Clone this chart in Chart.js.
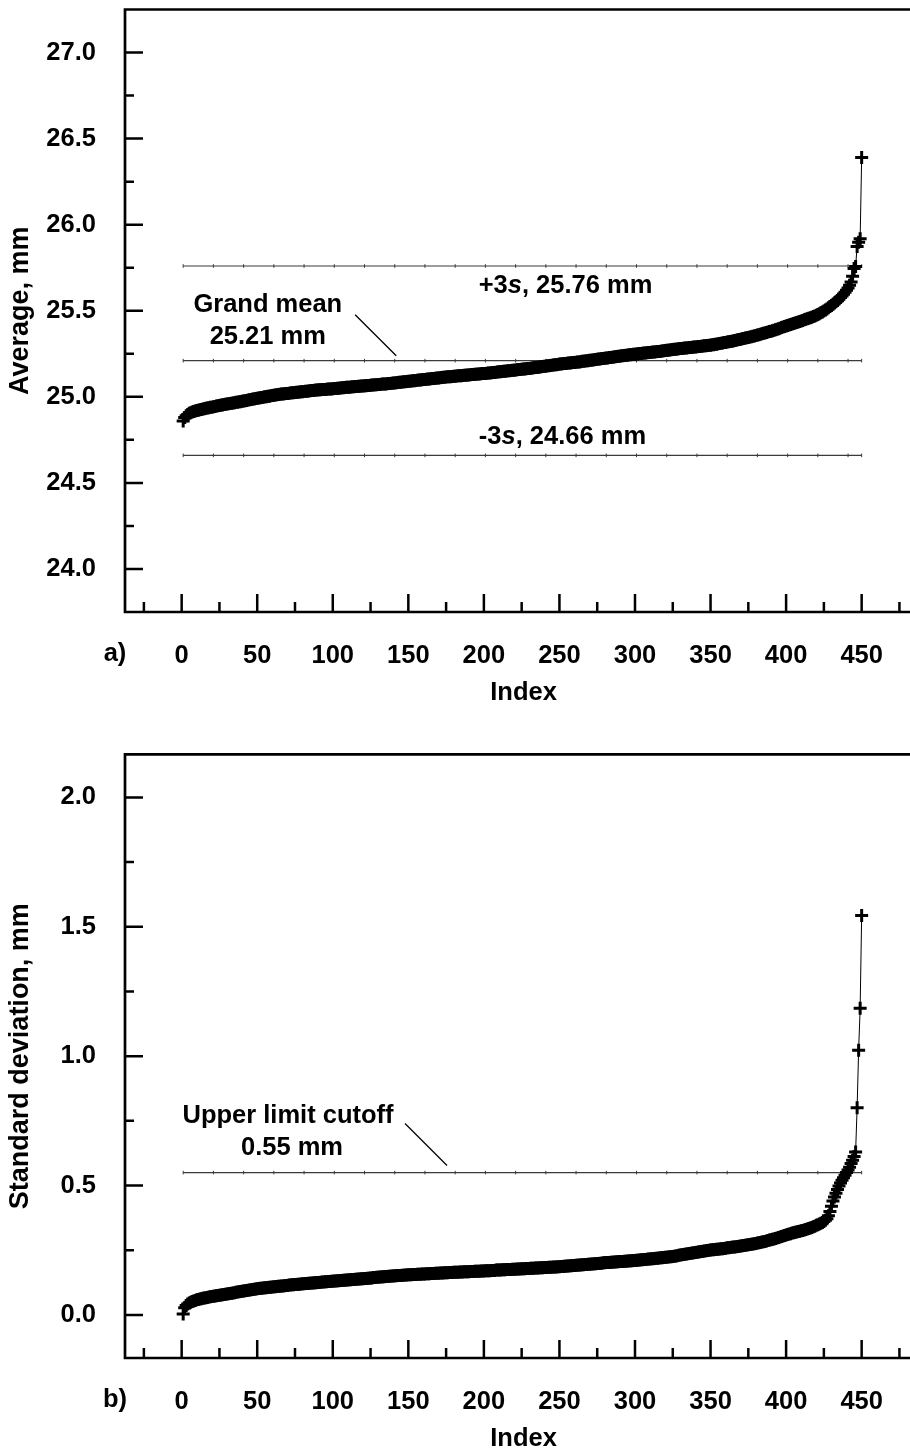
<!DOCTYPE html>
<html>
<head>
<meta charset="utf-8">
<script src="https://cdn.jsdelivr.net/npm/chart.js@4.4.1/dist/chart.umd.min.js"></script>
<style>
  html, body { margin: 0; padding: 0; background: #fff; width: 910px; height: 1456px; overflow: hidden; }
  .panel { position: absolute; left: 0; width: 960px; }
  #pa { top: 0; height: 710px; }
  #pb { top: 710px; height: 746px; }
  canvas { display: block; }
</style>
</head>
<body>
<div class="panel" id="pa"><canvas id="ca" width="960" height="710"></canvas></div>
<div class="panel" id="pb"><canvas id="cb" width="960" height="746"></canvas></div>
<script>
// Sorted subgroup averages (mm), index 1..450
const avgValues = [
  24.860,24.880,24.890,24.898,24.905,24.908,24.912,24.915,24.917,24.920,24.922,24.925,24.927,24.929,24.931,24.933,24.935,24.937,24.939,24.940,24.942,24.944,24.946,24.948,24.950,
  24.952,24.953,24.955,24.957,24.958,24.960,24.961,24.963,24.964,24.966,24.968,24.969,24.971,24.972,24.974,24.976,24.977,24.979,24.981,24.983,24.985,24.987,24.988,24.990,24.992,
  24.993,24.995,24.996,24.998,25.000,25.001,25.003,25.004,25.006,25.008,25.009,25.011,25.012,25.014,25.015,25.016,25.017,25.018,25.019,25.020,25.021,25.022,25.023,25.024,25.025,
  25.026,25.027,25.028,25.029,25.030,25.031,25.032,25.033,25.034,25.035,25.036,25.037,25.038,25.039,25.040,25.041,25.041,25.042,25.043,25.043,25.044,25.045,25.045,25.046,25.047,
  25.048,25.049,25.050,25.050,25.051,25.052,25.053,25.054,25.055,25.056,25.056,25.057,25.058,25.059,25.060,25.060,25.061,25.062,25.063,25.063,25.064,25.065,25.066,25.066,25.067,
  25.068,25.069,25.070,25.070,25.071,25.072,25.073,25.074,25.075,25.075,25.076,25.077,25.078,25.079,25.080,25.081,25.082,25.083,25.084,25.085,25.086,25.087,25.088,25.089,25.090,
  25.091,25.092,25.093,25.094,25.095,25.096,25.097,25.098,25.099,25.100,25.101,25.102,25.103,25.104,25.105,25.106,25.107,25.108,25.109,25.110,25.111,25.112,25.113,25.114,25.115,
  25.116,25.117,25.117,25.118,25.119,25.120,25.121,25.122,25.122,25.123,25.124,25.125,25.126,25.127,25.127,25.128,25.129,25.130,25.131,25.131,25.132,25.133,25.134,25.135,25.135,
  25.136,25.137,25.138,25.139,25.140,25.141,25.142,25.143,25.144,25.145,25.146,25.147,25.148,25.149,25.150,25.151,25.152,25.153,25.154,25.155,25.156,25.157,25.158,25.159,25.160,
  25.161,25.162,25.163,25.164,25.165,25.166,25.167,25.169,25.170,25.171,25.172,25.173,25.175,25.176,25.177,25.178,25.180,25.181,25.182,25.183,25.185,25.186,25.187,25.188,25.190,
  25.191,25.192,25.193,25.194,25.195,25.196,25.197,25.198,25.199,25.200,25.201,25.202,25.203,25.204,25.206,25.207,25.208,25.209,25.210,25.212,25.213,25.214,25.215,25.217,25.218,
  25.219,25.220,25.222,25.223,25.224,25.225,25.226,25.228,25.229,25.230,25.231,25.233,25.234,25.235,25.236,25.238,25.239,25.240,25.241,25.242,25.244,25.245,25.246,25.247,25.248,
  25.249,25.250,25.251,25.252,25.253,25.254,25.255,25.256,25.257,25.258,25.259,25.260,25.261,25.262,25.263,25.264,25.265,25.266,25.268,25.269,25.270,25.271,25.272,25.273,25.275,
  25.276,25.277,25.278,25.279,25.280,25.281,25.282,25.283,25.284,25.285,25.286,25.287,25.288,25.289,25.290,25.291,25.292,25.293,25.294,25.295,25.296,25.297,25.298,25.299,25.300,
  25.302,25.303,25.305,25.306,25.308,25.310,25.311,25.313,25.315,25.316,25.318,25.320,25.322,25.323,25.325,25.327,25.329,25.331,25.333,25.335,25.337,25.339,25.341,25.343,25.345,
  25.347,25.349,25.352,25.354,25.356,25.359,25.361,25.364,25.366,25.369,25.371,25.374,25.376,25.379,25.381,25.384,25.387,25.390,25.393,25.396,25.399,25.402,25.405,25.408,25.411,
  25.414,25.417,25.420,25.423,25.426,25.429,25.432,25.435,25.438,25.441,25.444,25.447,25.450,25.453,25.456,25.459,25.462,25.466,25.470,25.474,25.478,25.483,25.488,25.493,25.498,
  25.504,25.510,25.517,25.524,25.531,25.538,25.545,25.552,25.560,25.568,25.577,25.586,25.596,25.607,25.619,25.632,25.648,25.667,25.700,25.745,25.757,25.873,25.898,25.918,26.390
];

// Sorted subgroup standard deviations (mm), index 1..450
const sdValues = [
  0.003,0.028,0.036,0.042,0.046,0.049,0.052,0.054,0.056,0.058,0.059,0.061,0.062,0.064,0.065,0.066,0.067,0.069,0.070,0.071,0.072,0.073,0.074,0.075,0.076,
  0.077,0.078,0.079,0.080,0.081,0.082,0.083,0.084,0.085,0.086,0.087,0.088,0.089,0.090,0.091,0.092,0.093,0.094,0.095,0.096,0.097,0.098,0.099,0.100,0.101,
  0.102,0.103,0.103,0.104,0.105,0.105,0.106,0.107,0.107,0.108,0.109,0.109,0.110,0.111,0.111,0.112,0.112,0.113,0.114,0.114,0.115,0.115,0.116,0.116,0.117,
  0.117,0.118,0.118,0.119,0.120,0.120,0.121,0.121,0.122,0.122,0.123,0.123,0.124,0.124,0.125,0.125,0.126,0.127,0.127,0.128,0.128,0.129,0.129,0.130,0.130,
  0.131,0.131,0.132,0.132,0.133,0.133,0.134,0.134,0.135,0.135,0.136,0.136,0.137,0.137,0.138,0.138,0.139,0.139,0.140,0.140,0.141,0.141,0.142,0.142,0.143,
  0.143,0.144,0.144,0.145,0.145,0.146,0.146,0.147,0.147,0.148,0.148,0.149,0.149,0.150,0.150,0.151,0.151,0.152,0.152,0.152,0.153,0.153,0.154,0.154,0.155,
  0.155,0.155,0.156,0.156,0.156,0.157,0.157,0.157,0.158,0.158,0.158,0.159,0.159,0.159,0.160,0.160,0.160,0.161,0.161,0.161,0.162,0.162,0.162,0.163,0.163,
  0.163,0.164,0.164,0.164,0.165,0.165,0.165,0.165,0.166,0.166,0.166,0.167,0.167,0.167,0.167,0.168,0.168,0.168,0.169,0.169,0.169,0.169,0.170,0.170,0.170,
  0.171,0.171,0.171,0.171,0.172,0.172,0.172,0.173,0.173,0.173,0.173,0.174,0.174,0.174,0.175,0.175,0.175,0.175,0.176,0.176,0.176,0.177,0.177,0.177,0.178,
  0.178,0.178,0.179,0.179,0.179,0.180,0.180,0.180,0.181,0.181,0.181,0.182,0.182,0.182,0.183,0.183,0.183,0.184,0.184,0.184,0.185,0.185,0.185,0.186,0.186,
  0.187,0.187,0.188,0.188,0.189,0.189,0.190,0.190,0.191,0.191,0.192,0.192,0.193,0.193,0.194,0.194,0.195,0.195,0.196,0.196,0.197,0.197,0.198,0.198,0.199,
  0.199,0.200,0.200,0.201,0.201,0.202,0.202,0.202,0.203,0.203,0.204,0.204,0.205,0.205,0.206,0.206,0.206,0.207,0.207,0.208,0.208,0.209,0.209,0.210,0.210,
  0.211,0.211,0.212,0.213,0.213,0.214,0.214,0.215,0.216,0.216,0.217,0.217,0.218,0.219,0.219,0.220,0.221,0.221,0.222,0.223,0.223,0.224,0.225,0.225,0.226,
  0.227,0.228,0.229,0.230,0.231,0.232,0.233,0.234,0.235,0.236,0.237,0.238,0.239,0.240,0.241,0.242,0.243,0.244,0.245,0.246,0.247,0.248,0.249,0.250,0.251,
  0.252,0.252,0.253,0.254,0.254,0.255,0.256,0.256,0.257,0.258,0.259,0.259,0.260,0.261,0.262,0.262,0.263,0.264,0.265,0.266,0.267,0.268,0.269,0.270,0.271,
  0.272,0.273,0.274,0.275,0.276,0.278,0.279,0.280,0.282,0.283,0.284,0.286,0.287,0.289,0.290,0.292,0.293,0.295,0.297,0.299,0.301,0.303,0.305,0.307,0.309,
  0.311,0.313,0.314,0.316,0.317,0.319,0.320,0.322,0.323,0.325,0.326,0.328,0.330,0.332,0.334,0.336,0.338,0.341,0.343,0.346,0.348,0.351,0.354,0.357,0.361,
  0.366,0.372,0.383,0.400,0.420,0.440,0.456,0.470,0.485,0.498,0.510,0.520,0.530,0.540,0.550,0.560,0.571,0.585,0.598,0.612,0.630,0.801,1.023,1.185,1.544
];

// Control limits (mm)
const grandMean = 25.21;
const upperLimit = 25.76;
const lowerLimit = 24.66;
const sdCutoff = 0.55;

// Tick values
const indexMajor = [0, 50, 100, 150, 200, 250, 300, 350, 400, 450];
const indexMinor = [-25, 25, 75, 125, 175, 225, 275, 325, 375, 425, 475];
const avgMajor = [24.0, 24.5, 25.0, 25.5, 26.0, 26.5, 27.0];
const avgMinor = [24.25, 24.75, 25.25, 25.75, 26.25, 26.75];
const sdMajor = [0.0, 0.5, 1.0, 1.5, 2.0];
const sdMinor = [0.25, 0.75, 1.25, 1.75];

// Positions along the reference lines that carry small markers
const refIdx = [1, 21, 41, 61, 81, 101, 121, 141, 161, 181, 201, 221, 241, 261, 281, 301, 321, 341, 361, 381, 401, 421, 441, 450];

const FAMILY = '"Liberation Sans", Arial, Helvetica, sans-serif';
const FS = 25.5;
const B = 'bold ' + FS + 'px ' + FAMILY;
const BI = 'italic bold ' + FS + 'px ' + FAMILY;

const has = (arr, v) => arr.some(a => Math.abs(a - v) < 1e-6);

function runs(ctx, parts, cx, cy) {
  let w = 0;
  parts.forEach(p => { ctx.font = p[1]; w += ctx.measureText(p[0]).width; });
  let xx = cx - w / 2;
  ctx.textAlign = 'left';
  ctx.textBaseline = 'middle';
  parts.forEach(p => { ctx.font = p[1]; ctx.fillText(p[0], xx, cy); xx += ctx.measureText(p[0]).width; });
}

// Frame, inward tick marks and annotations
const frame = {
  id: 'frame',
  afterDatasetsDraw(chart, args, o) {
    const { ctx, chartArea: a, scales: { x, y } } = chart;
    ctx.save();
    ctx.strokeStyle = '#000';
    ctx.fillStyle = '#000';
    ctx.lineWidth = 2.7;
    ctx.beginPath();
    ctx.moveTo(a.left - 1.35, a.bottom); ctx.lineTo(chart.width, a.bottom);
    ctx.moveTo(a.left - 1.35, a.top); ctx.lineTo(chart.width, a.top);
    ctx.moveTo(a.left, a.top); ctx.lineTo(a.left, a.bottom);
    ctx.stroke();

    ctx.lineWidth = 2.5;
    ctx.beginPath();
    o.yMajor.forEach(v => { const p = y.getPixelForValue(v); ctx.moveTo(a.left, p); ctx.lineTo(a.left + 18, p); });
    o.yMinor.forEach(v => { const p = y.getPixelForValue(v); ctx.moveTo(a.left, p); ctx.lineTo(a.left + 9, p); });
    o.xMajor.forEach(v => { const p = x.getPixelForValue(v); ctx.moveTo(p, a.bottom); ctx.lineTo(p, a.bottom - 18); });
    o.xMinor.forEach(v => { const p = x.getPixelForValue(v); if (p < chart.width) { ctx.moveTo(p, a.bottom); ctx.lineTo(p, a.bottom - 10); } });
    ctx.stroke();

    ctx.font = B;
    ctx.textAlign = 'center';
    ctx.textBaseline = 'middle';
    ctx.fillText(o.panel, 115, a.bottom + 42);

    o.notes(ctx, x, y);
    ctx.restore();
  }
};

function leader(ctx, x1, y1, x2, y2) {
  ctx.lineWidth = 1.3;
  ctx.beginPath();
  ctx.moveTo(x1, y1); ctx.lineTo(x2, y2);
  ctx.stroke();
}

function refLine(value) {
  return {
    data: refIdx.map(i => ({ x: i, y: value })),
    borderColor: '#3a3a3a',
    borderWidth: 1.2,
    pointStyle: 'line',
    pointRotation: 90,
    pointRadius: 1.8,
    pointBorderWidth: 1,
    pointBorderColor: '#3a3a3a',
    order: 2
  };
}

function seriesSet(values) {
  return {
    data: values.map((v, i) => ({ x: i + 1, y: v })),
    borderColor: '#000',
    borderWidth: 1,
    pointStyle: 'cross',
    pointRadius: 6.5,
    pointBorderWidth: 3,
    pointBorderColor: '#000',
    order: 0
  };
}

// Fixed axis boxes so the plot area lands where the frame is drawn
function fixBox(s, w, h) {
  if (w !== null) s.width = w;
  if (h !== null) s.height = h;
  s.paddingTop = 0; s.paddingBottom = 0; s.paddingLeft = 0; s.paddingRight = 0;
}

function makeChart(id, cfg) {
  return new Chart(document.getElementById(id), {
    type: 'line',
    data: { datasets: cfg.datasets },
    options: {
      responsive: false,
      devicePixelRatio: 1,
      animation: false,
      events: [],
      layout: { padding: { top: cfg.top, right: 37.9, bottom: 0, left: 0 } },
      plugins: { legend: { display: false }, tooltip: { enabled: false }, frame: cfg.frame },
      scales: {
        x: {
          type: 'linear',
          min: -37.5,
          max: 490,
          grid: { display: false, drawTicks: false },
          border: { display: false },
          afterBuildTicks: s => { s.ticks = indexMajor.concat(indexMinor).sort((p, q) => p - q).map(v => ({ value: v })); },
          afterFit: s => fixBox(s, null, 98),
          ticks: {
            autoSkip: false, maxRotation: 0, padding: 29, color: '#000',
            font: { family: FAMILY, size: FS, weight: 'bold' },
            callback: v => has(indexMajor, v) ? String(v) : ''
          },
          title: {
            display: true, text: 'Index', color: '#000',
            font: { family: FAMILY, size: FS, weight: 'bold' },
            padding: { top: 0, bottom: 1.4 }
          }
        },
        y: {
          type: 'linear',
          min: cfg.yMin,
          max: cfg.yMax,
          grid: { display: false, drawTicks: false },
          border: { display: false },
          afterBuildTicks: s => { s.ticks = cfg.yMajor.concat(cfg.yMinor).sort((p, q) => p - q).map(v => ({ value: v })); },
          afterFit: s => fixBox(s, 125, null),
          ticks: {
            autoSkip: false, padding: 29, color: '#000',
            font: { family: FAMILY, size: FS, weight: 'bold' },
            callback: v => has(cfg.yMajor, v) ? v.toFixed(1) : ''
          },
          title: {
            display: true, text: cfg.yTitle, color: '#000',
            font: { family: FAMILY, size: 27, weight: 'bold' },
            padding: { top: 4, bottom: 0 }
          }
        }
      }
    },
    plugins: [frame]
  });
}

makeChart('ca', {
  top: 8.3,
  yMin: 23.75, yMax: 27.25,
  yMajor: avgMajor, yMinor: avgMinor,
  yTitle: 'Average, mm',
  datasets: [seriesSet(avgValues), refLine(grandMean), refLine(upperLimit), refLine(lowerLimit)],
  frame: {
    panel: 'a)',
    yMajor: avgMajor, yMinor: avgMinor, xMajor: indexMajor, xMinor: indexMinor,
    notes: (ctx, x, y) => {
      const ym = y.getPixelForValue(grandMean);
      ctx.font = B; ctx.textAlign = 'center'; ctx.textBaseline = 'middle';
      ctx.fillText('Grand mean', x.getPixelForValue(57), ym - 56);
      ctx.fillText(grandMean.toFixed(2) + ' mm', x.getPixelForValue(57), ym - 24);
      leader(ctx, x.getPixelForValue(114.8), ym - 46, x.getPixelForValue(142), ym - 5);
      const yu = y.getPixelForValue(upperLimit);
      runs(ctx, [['+3', B], ['s', BI], [', ' + upperLimit.toFixed(2) + ' mm', B]], x.getPixelForValue(254), yu + 20);
      const yl = y.getPixelForValue(lowerLimit);
      runs(ctx, [['-3', B], ['s', BI], [', ' + lowerLimit.toFixed(2) + ' mm', B]], x.getPixelForValue(252), yl - 18);
    }
  }
});

makeChart('cb', {
  top: 44.3,
  yMin: -1 / 6, yMax: 13 / 6,
  yMajor: sdMajor, yMinor: sdMinor,
  yTitle: 'Standard deviation, mm',
  datasets: [seriesSet(sdValues), refLine(sdCutoff)],
  frame: {
    panel: 'b)',
    yMajor: sdMajor, yMinor: sdMinor, xMajor: indexMajor, xMinor: indexMinor,
    notes: (ctx, x, y) => {
      const yc = y.getPixelForValue(sdCutoff);
      ctx.font = B; ctx.textAlign = 'center'; ctx.textBaseline = 'middle';
      ctx.fillText('Upper limit cutoff', x.getPixelForValue(70.4), yc - 57);
      ctx.fillText(sdCutoff.toFixed(2) + ' mm', x.getPixelForValue(73), yc - 25);
      leader(ctx, x.getPixelForValue(147.8), yc - 49, x.getPixelForValue(175.6), yc - 7);
    }
  }
});
</script>
</body>
</html>
